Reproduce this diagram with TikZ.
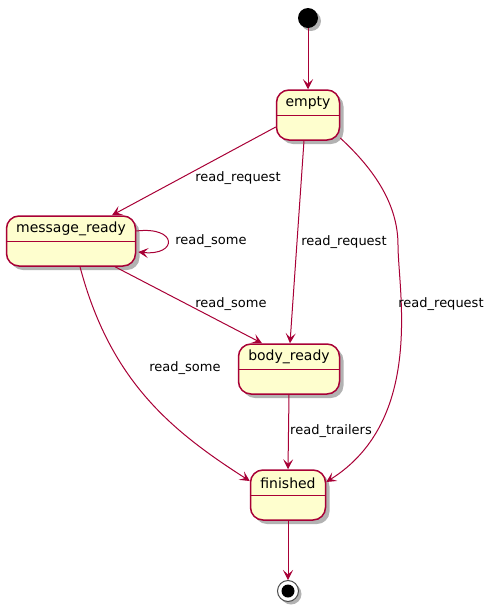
\documentclass[tikz,border=0pt]{standalone}
\usepackage{fontspec}
\setmainfont{DejaVu Sans}
\usetikzlibrary{arrows.meta,shadows,calc}
\definecolor{pumlred}{HTML}{A80036}
\definecolor{pumlfill}{HTML}{FEFECE}
\tikzset{
  statebox/.style={draw=pumlred, fill=pumlfill, line width=1.5pt, rounded corners=12.5pt,
    minimum height=50pt, inner sep=0pt,
    drop shadow={shadow xshift=4pt, shadow yshift=-4pt, fill=black, opacity=0.3}},
  statename/.style={font=\fontsize{14}{16}\selectfont, inner sep=0pt, anchor=center},
  edge/.style={draw=pumlred, line width=1pt, -{Stealth[length=10pt,width=10pt,inset=4.5pt]}},
  elabel/.style={font=\fontsize{13}{15}\selectfont, inner sep=0pt, anchor=center},
}
\newcommand{\mkstate}[5]{%
  \node[statebox, minimum width=#4pt] (#1) at (#2,#3) {};
  \node[statename] (#1-t) at ($(#1.north)+(0,14)$) {#5};
  \draw[pumlred, line width=1.5pt] ($(#1.north west)+(0,26)$) coordinate (#1-dl) -- ($(#1.north east)+(0,26)$) coordinate (#1-dr);
}
\begin{document}
\begin{tikzpicture}[x=1pt,y=-1pt]
\useasboundingbox (0,0) rectangle (494,611);
% start
\node[circle, fill=black, minimum size=20pt, inner sep=0pt,
  drop shadow={shadow xshift=3pt, shadow yshift=-3pt, fill=black, opacity=0.3}] (start) at (308,18) {};
% states
\mkstate{empty}{308}{115}{63}{empty}
\mkstate{mr}{71}{241}{129}{message\_ready}
\mkstate{body}{289}{369}{101}{body\_ready}
\mkstate{fin}{288}{495}{75}{finished}
% end
\node[circle, draw=black!70, fill=white, line width=1pt, minimum size=21pt, inner sep=0pt,
  drop shadow={shadow xshift=3pt, shadow yshift=-3pt, fill=black, opacity=0.3}] (stop) at (288,591) {};
\node[circle, fill=black, minimum size=13pt, inner sep=0pt] (stopin) at (stop) {};
% edges
\draw[edge] (start) -- (empty.north);
\draw[edge] ($(empty.west)+(0,12)$) -- ($(mr.north)+(41,0)$);
\node[elabel] (l1) at (238,178) {read\_request};
\draw[edge] ($(empty.south)+(-4,0)$) -- ($(body.north)+(1,0)$);
\node[elabel] (l2) at (344,242) {read\_request};
\coordinate (w1) at (398,245);
\draw[edge] ($(empty.east)+(0,23)$) .. controls (375,170) and (398,205) .. (w1)
  .. controls (398,290) and (425,420) .. ($(fin.east)+(0,-13)$);
\node[elabel] (l3) at (441,304) {read\_request};
\draw[edge] ($(mr.east)+(0,-10)$) .. controls (178,226) and (178,256) .. ($(mr.east)+(2,11)$);
\node[elabel] (l4) at (211,241) {read\_some};
\draw[edge] ($(mr.south)+(44,0)$) -- ($(body.north)+(-27,0)$);
\node[elabel] (l5) at (231,304) {read\_some};
\draw[edge] ($(mr.south)+(9,0)$) .. controls (110,380) and (170,430) .. ($(fin.west)+(0,-14)$);
\node[elabel] (l6) at (185,368) {read\_some};
\draw[edge] (body.south) -- (fin.north);
\node[elabel] (l7) at (331,431) {read\_trailers};
\draw[edge] (fin.south) -- (stop.north);
\end{tikzpicture}
\end{document}
